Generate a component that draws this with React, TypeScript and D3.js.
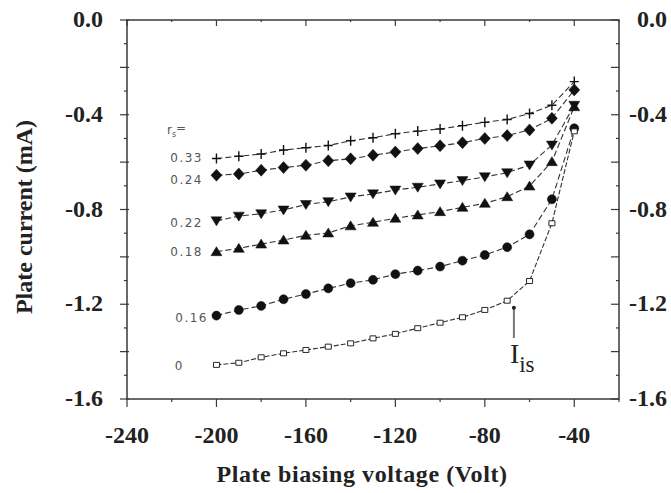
import React, { useEffect, useRef } from 'react';
import * as d3 from 'd3';

// Plate biasing voltage (V), same for every curve
const voltage = [-200, -190, -180, -170, -160, -150, -140, -130, -120, -110, -100, -90, -80, -70, -60, -50, -40];

// Plate current (mA) for each r_s
const rs033 = [-0.585, -0.575, -0.566, -0.549, -0.539, -0.53, -0.51, -0.497, -0.48, -0.469, -0.46, -0.446, -0.432, -0.42, -0.395, -0.36, -0.26];
const rs024 = [-0.655, -0.65, -0.634, -0.623, -0.613, -0.594, -0.586, -0.571, -0.557, -0.543, -0.531, -0.518, -0.5, -0.488, -0.464, -0.415, -0.295];
const rs022 = [-0.848, -0.828, -0.818, -0.802, -0.779, -0.767, -0.747, -0.734, -0.718, -0.706, -0.692, -0.678, -0.662, -0.645, -0.612, -0.528, -0.36];
const rs018 = [-0.978, -0.964, -0.946, -0.929, -0.909, -0.899, -0.869, -0.854, -0.837, -0.823, -0.809, -0.791, -0.774, -0.746, -0.701, -0.598, -0.366];
const rs016 = [-1.248, -1.224, -1.207, -1.179, -1.157, -1.133, -1.111, -1.097, -1.073, -1.058, -1.041, -1.016, -0.992, -0.959, -0.905, -0.757, -0.457];
const rs000 = [-1.456, -1.447, -1.424, -1.407, -1.393, -1.379, -1.365, -1.344, -1.325, -1.301, -1.278, -1.255, -1.224, -1.185, -1.102, -0.858, -0.47];

const seriesLabels = ['0.33', '0.24', '0.22', '0.18', '0.16', '0'];
const markers = ['plus', 'diamond', 'down', 'up', 'circle', 'square'];

const xTicks = [-240, -200, -160, -120, -80, -40];
const yTicks = [0.0, -0.4, -0.8, -1.2, -1.6];

const Chart = () => {
  const svgRef = useRef(null);
  const width = 671, height = 493;

  useEffect(() => {
    const svg = d3.select(svgRef.current);
    svg.selectAll('*').remove();

    const margin = { top: 20, right: 52, bottom: 94, left: 127 };
    const x = d3.scaleLinear().domain([-240, -20]).range([margin.left, width - margin.right]);
    const y = d3.scaleLinear().domain([0, -1.6]).range([margin.top, height - margin.bottom]);
    const x0 = x.range()[0], x1 = x.range()[1], y0 = y.range()[0], y1 = y.range()[1];

    const axisColor = '#3a3a3a';
    const serif = '"Liberation Serif", "Times New Roman", serif';

    // frame
    svg.append('rect')
      .attr('x', x0).attr('y', y0)
      .attr('width', x1 - x0).attr('height', y1 - y0)
      .attr('fill', 'none').attr('stroke', axisColor).attr('stroke-width', 1.5);

    // ticks
    const ticks = svg.append('g').attr('stroke', axisColor).attr('stroke-width', 1.2);
    d3.range(-240, -20 + 1, 20).forEach(v => {
      const major = v % 40 === 0;
      ticks.append('line').attr('x1', x(v)).attr('x2', x(v)).attr('y1', y1).attr('y2', y1 + (major ? 8 : 3));
      ticks.append('line').attr('x1', x(v)).attr('x2', x(v)).attr('y1', y0).attr('y2', y0 + (major ? 6 : 2));
    });
    d3.range(0, 17).forEach(i => {
      const v = -i * 0.1;
      const major = i % 2 === 0;
      ticks.append('line').attr('y1', y(v)).attr('y2', y(v)).attr('x1', x0 - (major ? 7 : 3)).attr('x2', x0 + (major ? 2 : 0));
      ticks.append('line').attr('y1', y(v)).attr('y2', y(v)).attr('x1', x1).attr('x2', x1 - (major ? 8 : 3));
    });

    // tick labels
    const labelStyle = (sel, size = 24) => sel
      .style('font-family', serif).style('font-size', `${size}px`).style('font-weight', 'bold')
      .attr('fill', '#222');

    svg.selectAll('.xl').data(xTicks).enter().append('text')
      .attr('x', d => x(d)).attr('y', y1 + 44)
      .attr('text-anchor', 'middle')
      .text(d => d)
      .call(labelStyle);

    svg.selectAll('.yl').data(yTicks).enter().append('text')
      .attr('x', x0 - 24).attr('y', d => y(d) + 7)
      .attr('text-anchor', 'end')
      .text(d => d.toFixed(1))
      .call(labelStyle);

    svg.selectAll('.yr').data(yTicks).enter().append('text')
      .attr('x', 667).attr('y', d => y(d) + 7)
      .attr('text-anchor', 'end')
      .text(d => d.toFixed(1))
      .call(labelStyle);

    // axis titles
    svg.append('text')
      .attr('x', 362).attr('y', 482)
      .attr('text-anchor', 'middle')
      .style('letter-spacing', '0.6px')
      .text('Plate biasing voltage (Volt)')
      .call(labelStyle);

    svg.append('text')
      .attr('transform', `translate(32,217) rotate(-90)`)
      .attr('text-anchor', 'middle')
      .text('Plate current (mA)')
      .call(labelStyle);

    // series
    const allSeries = [rs033, rs024, rs022, rs018, rs016, rs000];
    const line = d3.line().x(d => x(d[0])).y(d => y(d[1]));

    const markerPath = (type) => {
      switch (type) {
        case 'plus': return 'M-4.5,0H4.5M0,-5V5';
        case 'diamond': return 'M0,-6L5.5,0L0,6L-5.5,0Z';
        case 'down': return 'M-5.5,-4L5.5,-4L0,5Z';
        case 'up': return 'M-5.5,4L5.5,4L0,-5Z';
        case 'circle': return d3.symbol(d3.symbolCircle, 64)();
        default: return 'M-3,-2.5H3V2.5H-3Z';
      }
    };

    allSeries.forEach((vals, si) => {
      const pts = voltage.map((v, i) => [v, vals[i]]);
      svg.append('path')
        .datum(pts)
        .attr('d', line)
        .attr('fill', 'none')
        .attr('stroke', '#333')
        .attr('stroke-width', 1.1)
        .attr('stroke-dasharray', si === 5 ? '5,2' : '6,3');

      const type = markers[si];
      svg.append('g').selectAll('path').data(pts).enter().append('path')
        .attr('transform', d => `translate(${x(d[0])},${y(d[1])})`)
        .attr('d', markerPath(type))
        .attr('fill', type === 'square' ? 'white' : type === 'plus' ? 'none' : '#111')
        .attr('stroke', '#111')
        .attr('stroke-width', type === 'plus' ? 1.4 : type === 'square' ? 0.9 : 0.5);
    });

    // r_s labels
    const sans = '"DejaVu Sans", Arial, sans-serif';
    const labelPos = [
      [203, 162], [203, 184], [203, 227], [203, 256], [208, 322], [184, 370]
    ];
    seriesLabels.forEach((lab, i) => {
      svg.append('text')
        .attr('x', labelPos[i][0]).attr('y', labelPos[i][1])
        .attr('text-anchor', 'end')
        .style('font-family', sans).style('font-size', '12px').style('letter-spacing', '1.5px')
        .attr('fill', '#555')
        .text(lab);
    });
    const rs = svg.append('text')
      .attr('x', 167).attr('y', 134)
      .style('font-family', sans).style('font-size', '12px')
      .attr('fill', '#555');
    rs.append('tspan').text('r');
    rs.append('tspan').attr('dy', 3).style('font-size', '8px').text('s');
    rs.append('tspan').attr('dy', -5).text('=');

    // I_is annotation
    const ax = x(-67);
    svg.append('line')
      .attr('x1', ax).attr('x2', ax).attr('y1', y(-1.215)).attr('y2', 338)
      .attr('stroke', '#777').attr('stroke-width', 2);
    svg.append('circle').attr('cx', ax).attr('cy', y(-1.215)).attr('r', 2).attr('fill', '#222');
    const iis = svg.append('text')
      .attr('x', ax - 4).attr('y', 363)
      .style('font-family', serif).style('font-size', '28px')
      .attr('fill', '#222');
    iis.append('tspan').text('I');
    iis.append('tspan').attr('dy', 9).style('font-size', '23px').text('is');
  }, []);

  return (
    <svg ref={svgRef} width={width} height={height}
      style={{ position: 'absolute', left: 0, top: 0, background: 'white' }} />
  );
};

export default function App() {
  return <Chart />;
}
